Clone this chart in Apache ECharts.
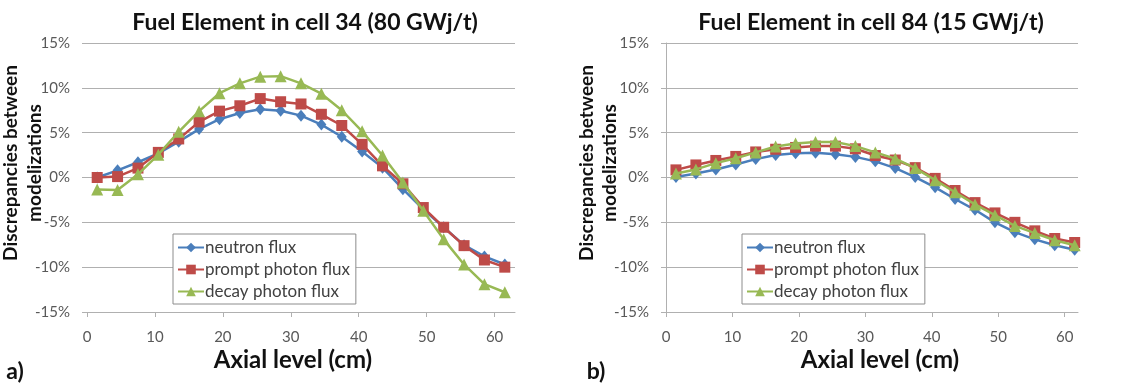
<!DOCTYPE html>
<html><head><meta charset="utf-8">
<script src="https://cdn.jsdelivr.net/npm/echarts@6/dist/echarts.min.js"></script>
<style>html,body{margin:0;padding:0;background:#fff}#c{width:1137px;height:384px}</style>
</head><body><div id="c"></div>
<script>
// ---- data ----
const axialLevels = [1.5, 4.5, 7.5, 10.5, 13.5, 16.5, 19.5, 22.5, 25.5, 28.5, 31.5, 34.5, 37.5, 40.5, 43.5, 46.5, 49.5, 52.5, 55.5, 58.5, 61.5];
const xTicks = [0, 10, 20, 30, 40, 50, 60];
const seriesNames = ['neutron flux', 'prompt photon flux', 'decay photon flux'];

const cell34Neutron = [0, 0.8, 1.7, 2.7, 4.0, 5.4, 6.5, 7.2, 7.6, 7.45, 6.9, 5.9, 4.55, 2.9, 1.1, -1.3, -3.55, -5.55, -7.55, -8.8, -9.7];
const cell34Prompt  = [0, 0.1, 1.05, 2.8, 4.3, 6.2, 7.4, 8.0, 8.8, 8.45, 8.2, 7.05, 5.8, 3.7, 1.3, -0.7, -3.35, -5.55, -7.6, -9.2, -10.0];
const cell34Decay   = [-1.35, -1.4, 0.35, 2.55, 5.1, 7.4, 9.4, 10.5, 11.25, 11.3, 10.5, 9.35, 7.5, 5.15, 2.45, -0.55, -3.7, -6.9, -9.7, -11.9, -12.8];

const cell84Neutron = [0.05, 0.45, 0.9, 1.45, 2.05, 2.5, 2.7, 2.75, 2.6, 2.3, 1.8, 1.05, 0.05, -1.1, -2.4, -3.6, -5.0, -6.1, -6.9, -7.55, -8.05];
const cell84Prompt  = [0.85, 1.4, 1.9, 2.35, 2.85, 3.15, 3.35, 3.5, 3.5, 3.2, 2.45, 1.95, 1.1, -0.1, -1.45, -2.8, -3.95, -5.0, -5.95, -6.8, -7.25];
const cell84Decay   = [0.45, 0.9, 1.6, 2.15, 2.8, 3.45, 3.8, 3.95, 3.95, 3.5, 2.8, 2.1, 1.05, -0.3, -1.65, -3.0, -4.2, -5.4, -6.2, -7.0, -7.55];

const titleTexts = ['Fuel Element in cell 34 (80 GWj/t)', 'Fuel Element in cell 84 (15 GWj/t)'];
const xAxisName = 'Axial level (cm)';
const yAxisName = 'Discrepancies between\nmodelizations';
const panelTags = ['a)', 'b)'];

// ---- styling ----
const FONT = 'Lato, "Noto Sans", sans-serif';
const GRID_COLOR = '#b0b0b0';
const LABEL_COLOR = '#595959';
const colors = ['#4a7ebb', '#be4b48', '#98b954'];
const symbols = ['diamond', 'rect', 'triangle'];
const symbolSizes = [[10, 12], 11, 12];

const grids = [
  { left: 87, right: 1137 - 515, top: 43, bottom: 384 - 312 },
  { left: 666, right: 1137 - 1078, top: 43, bottom: 384 - 312 }
];
const xMax = [63, 62];

function xAxisDef(i) {
  return {
    type: 'value', gridIndex: i, min: 0, max: xMax[i], interval: 10,
    axisLine: { show: true, onZero: false, lineStyle: { color: GRID_COLOR, width: 1 } },
    axisTick: { show: true, length: 5, inside: false, customValues: xTicks, lineStyle: { color: GRID_COLOR } },
    axisLabel: { customValues: xTicks, color: LABEL_COLOR, fontFamily: FONT, fontSize: 15, margin: 18 },
    splitLine: { show: false }
  };
}
function yAxisDef(i, showLine) {
  return {
    type: 'value', gridIndex: i, min: -15, max: 15, interval: 5,
    axisLine: { show: showLine, lineStyle: { color: GRID_COLOR, width: 1 } },
    axisTick: { show: true, length: 5, lineStyle: { color: GRID_COLOR } },
    axisLabel: { formatter: '{value}%', color: LABEL_COLOR, fontFamily: FONT, fontSize: 15, margin: 17 },
    splitLine: { show: true, lineStyle: { color: GRID_COLOR, width: 1 } }
  };
}

const panels = [
  [cell34Neutron, cell34Prompt, cell34Decay],
  [cell84Neutron, cell84Prompt, cell84Decay]
];

const series = [];
panels.forEach((vals, p) => {
  vals.forEach((arr, k) => {
    series.push({
      name: seriesNames[k], type: 'line', xAxisIndex: p, yAxisIndex: p,
      data: axialLevels.map((x, i) => [x, arr[i]]),
      symbol: symbols[k], symbolSize: symbolSizes[k],
      itemStyle: { color: colors[k] },
      lineStyle: { color: colors[k], width: 2.5 },
      z: 2 + k
    });
  });
});

const legendCommon = {
  orient: 'vertical', top: 234, data: seriesNames,
  itemWidth: 26, itemHeight: 12, itemGap: 5,
  padding: [5, 6, 4, 4],
  borderColor: '#8c8c8c', borderWidth: 1, backgroundColor: '#fff',
  textStyle: { color: '#404040', fontFamily: FONT, fontSize: 17, padding: [0, 0, 0, -4] },
  selectedMode: false
};

function txt(x, y, text, size, extra) {
  return Object.assign({
    type: 'text', x: x, y: y, silent: true,
    style: { text: text, fill: '#111', font: 'bold ' + size + 'px ' + FONT,
      align: 'center', verticalAlign: 'middle', textAlign: 'center', textVerticalAlign: 'middle' }
  }, extra || {});
}

const graphics = [
  txt(305, 23, titleTexts[0], 23),
  txt(871, 23, titleTexts[1], 23),
  txt(293, 360, xAxisName, 24),
  txt(880, 360, xAxisName, 24),
  txt(23, 163, yAxisName, 19, { rotation: Math.PI / 2 }),
  txt(598, 163, yAxisName, 19, { rotation: Math.PI / 2 }),
  txt(15, 372, panelTags[0], 23),
  txt(596, 372, panelTags[1], 23)
];
graphics[4].style.lineHeight = 24;
graphics[5].style.lineHeight = 23;

const chart = echarts.init(document.getElementById('c'), null, { renderer: 'canvas' });
chart.setOption({
  animation: false,
  backgroundColor: '#fff',
  grid: grids,
  xAxis: [xAxisDef(0), xAxisDef(1)],
  yAxis: [yAxisDef(0, false), yAxisDef(1, true)],
  legend: [
    Object.assign({}, legendCommon, { left: 173 }),
    Object.assign({}, legendCommon, { left: 742 })
  ],
  graphic: graphics,
  series: series
});
</script>
</body></html>
